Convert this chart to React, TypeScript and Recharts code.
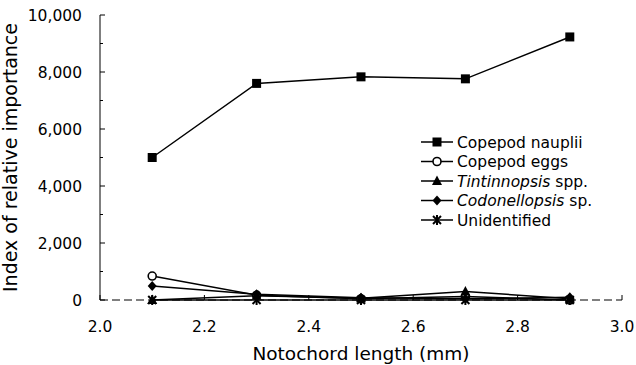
import { LineChart, Line, XAxis, YAxis } from 'recharts'

const lengths = [2.1, 2.3, 2.5, 2.7, 2.9]
const nauplii = [5000, 7600, 7830, 7760, 9230]
const eggs = [840, 170, 40, 120, 0]
const tintinnopsis = [0, 150, 60, 300, 40]
const codonellopsis = [490, 200, 80, 40, 100]
const unidentified = [0, 0, 0, 0, 0]

const xTicks = [2.0, 2.2, 2.4, 2.6, 2.8, 3.0]
const yTicks = [0, 1000, 2000, 3000, 4000, 5000, 6000, 7000, 8000, 9000, 10000]

const data = lengths.map((x, i) => ({
  x,
  nauplii: nauplii[i],
  eggs: eggs[i],
  tintinnopsis: tintinnopsis[i],
  codonellopsis: codonellopsis[i],
  unidentified: unidentified[i],
}))

const font = '"DejaVu Sans", Arial, sans-serif'

type Shape = 'square' | 'circle' | 'triangle' | 'diamond' | 'star'

function Marker({ cx, cy, shape }: { cx: number; cy: number; shape: Shape }) {
  if (cx == null || cy == null) return null
  switch (shape) {
    case 'square':
      return <rect x={cx - 4.5} y={cy - 4.5} width={9} height={9} fill='#000' />
    case 'circle':
      return <circle cx={cx} cy={cy} r={4} fill='#fff' stroke='#000' strokeWidth={1.6} />
    case 'triangle':
      return <polygon points={`${cx},${cy - 5.5} ${cx + 5},${cy + 4} ${cx - 5},${cy + 4}`} fill='#000' />
    case 'diamond':
      return <polygon points={`${cx},${cy - 5} ${cx + 4.5},${cy} ${cx},${cy + 5} ${cx - 4.5},${cy}`} fill='#000' />
    case 'star':
      return (
        <g stroke='#000' strokeWidth={2}>
          <line x1={cx - 4} y1={cy - 4} x2={cx + 4} y2={cy + 4} />
          <line x1={cx - 4} y1={cy + 4} x2={cx + 4} y2={cy - 4} />
          <line x1={cx} y1={cy - 5} x2={cx} y2={cy + 5} />
        </g>
      )
  }
}

const series: { key: string; shape: Shape; label: React.ReactNode }[] = [
  { key: 'nauplii', shape: 'square', label: 'Copepod nauplii' },
  { key: 'eggs', shape: 'circle', label: 'Copepod eggs' },
  { key: 'tintinnopsis', shape: 'triangle', label: <><tspan fontStyle='italic'>Tintinnopsis</tspan> spp.</> },
  { key: 'codonellopsis', shape: 'diamond', label: <><tspan fontStyle='italic'>Codonellopsis</tspan> sp.</> },
  { key: 'unidentified', shape: 'star', label: 'Unidentified' },
]

function LegendBox() {
  return (
    <svg width={200} height={100} style={{ position: 'absolute', left: 421, top: 135, overflow: 'visible' }}>
      {series.map((s, i) => {
        const y = 7 + i * 19.5
        return (
          <g key={s.key}>
            <line x1={0} y1={y} x2={32} y2={y} stroke='#000' strokeWidth={1.5} />
            <Marker cx={16} cy={y} shape={s.shape} />
            <text x={36} y={y + 5.5} fontSize={15.5} fontFamily={font} fill='#000'>
              {s.label}
            </text>
          </g>
        )
      })}
    </svg>
  )
}

function YTick(props: any) {
  const { x, y, payload } = props
  const major = payload.value % 2000 === 0
  return (
    <g>
      <line x1={x} y1={y} x2={x + (major ? 5 : 3)} y2={y} stroke='#000' strokeWidth={1} />
      {major && (
        <text x={x - 18} y={y + 6} textAnchor='end' fontSize={15.5} fontFamily={font} fill='#000'>
          {payload.value.toLocaleString('en-US')}
        </text>
      )}
    </g>
  )
}

function XTick(props: any) {
  const { x, y, payload } = props
  return (
    <g>
      <line x1={x} y1={y} x2={x} y2={y - 5} stroke='#000' strokeWidth={1} />
      <text x={x} y={y + 32} textAnchor='middle' fontSize={15.5} fontFamily={font} fill='#000'>
        {payload.value.toFixed(1)}
      </text>
    </g>
  )
}

export default function App() {
  return (
    <div style={{ position: 'absolute', left: 0, top: 0, width: 636, height: 365, background: '#fff' }}>
      <LineChart width={636} height={365} data={data} margin={{ top: 15, right: 14, left: 0, bottom: 0 }}>
        <XAxis
          dataKey='x'
          type='number'
          domain={[2, 3]}
          ticks={xTicks}
          tickSize={0}
          tickMargin={0}
          height={65}
          tick={<XTick />}
          axisLine={{ stroke: '#000', strokeWidth: 1, strokeDasharray: '8 4' }}
          tickLine={false}
          label={{ value: 'Notochord length (mm)', position: 'insideBottom', offset: 5, fontSize: 18.5, fontFamily: font, fill: '#000' }}
        />
        <YAxis
          type='number'
          domain={[0, 10000]}
          ticks={yTicks}
          width={100}
          tickSize={0}
          tickMargin={0}
          tick={<YTick />}
          tickLine={false}
          axisLine={{ stroke: '#000', strokeWidth: 1 }}
          label={{ value: 'Index of relative importance', angle: -90, position: 'insideLeft', offset: 10, fontSize: 19, fontFamily: font, fill: '#000', style: { textAnchor: 'middle' } }}
        />
        {series.map((s) => (
          <Line
            key={s.key}
            dataKey={s.key}
            stroke='#000'
            strokeWidth={1.5}
            isAnimationActive={false}
            dot={(p: any) => <Marker key={`${s.key}-${p.index}`} cx={p.cx} cy={p.cy} shape={s.shape} />}
            activeDot={false}
          />
        ))}
      </LineChart>
      <LegendBox />
    </div>
  )
}
